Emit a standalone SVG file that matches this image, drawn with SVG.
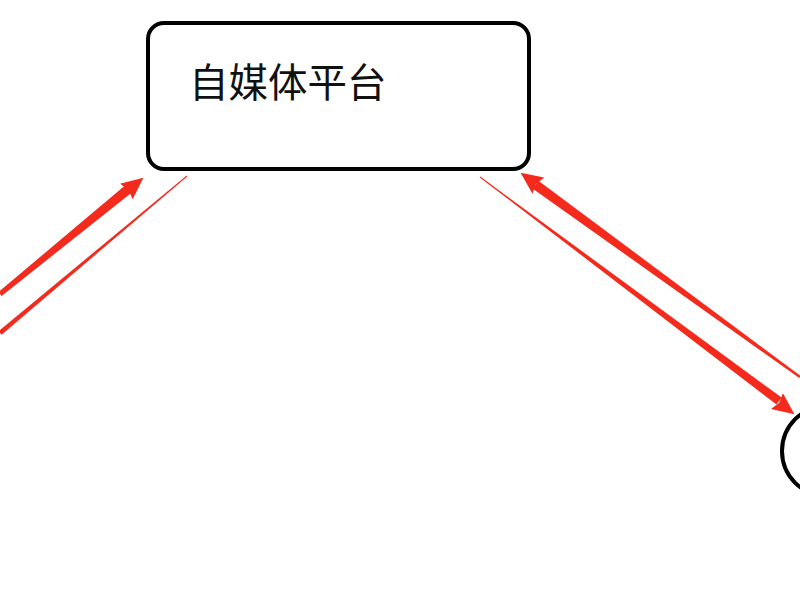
<svg xmlns="http://www.w3.org/2000/svg" width="800" height="600" viewBox="0 0 800 600">
<defs>
<style>
.node{fill:#fff;stroke:#000;stroke-width:4}
.lbl{font-family:"Liberation Sans","Noto Sans CJK SC",sans-serif;font-size:39.5px;fill:#111}
.shaft{fill:#f42a1c;stroke:none}
.guide{fill:none;stroke:none}
</style>
<marker id="ah" viewBox="0 0 22 20" refX="21.5" refY="10" markerWidth="22" markerHeight="20" markerUnits="userSpaceOnUse" orient="auto">
<path d="M0,0 L22,10 L0,20 L3,10 Z" fill="#f42a1c"/>
</marker>
</defs>
<rect width="800" height="600" fill="#fff"/>
<g id="connectors">
<g id="arrow-left-up">
<polygon class="shaft" points="1.6,295.9 -1.6,292.1 125.6,185 131.8,192.6"/>
<path class="guide" d="M0,294 L143,178" marker-end="url(#ah)"/>
</g>
<g id="arrow-left-down">
<polygon class="shaft" points="187.3,176.4 186.7,175.6 -1.6,331.2 1.6,334.8"/>
</g>
<g id="arrow-right-up">
<polygon class="shaft" points="800.7,376 799.3,378 532.8,188.7 538.4,180.8"/>
<path class="guide" d="M800,377 L521,173" marker-end="url(#ah)"/>
</g>
<g id="arrow-right-down">
<polygon class="shaft" points="480.3,176.6 479.7,177.4 776.5,404.5 781.6,397.6"/>
<path class="guide" d="M480,177 L794,414" marker-end="url(#ah)"/>
</g>
</g>
<g id="node-platform">
<rect class="node" x="148" y="23" width="381" height="146" rx="16"/>
<text class="lbl" x="189" y="97">自媒体平台</text>
</g>
<g id="node-right">
<circle class="node" cx="827" cy="451" r="45"/>
</g>
</svg>
